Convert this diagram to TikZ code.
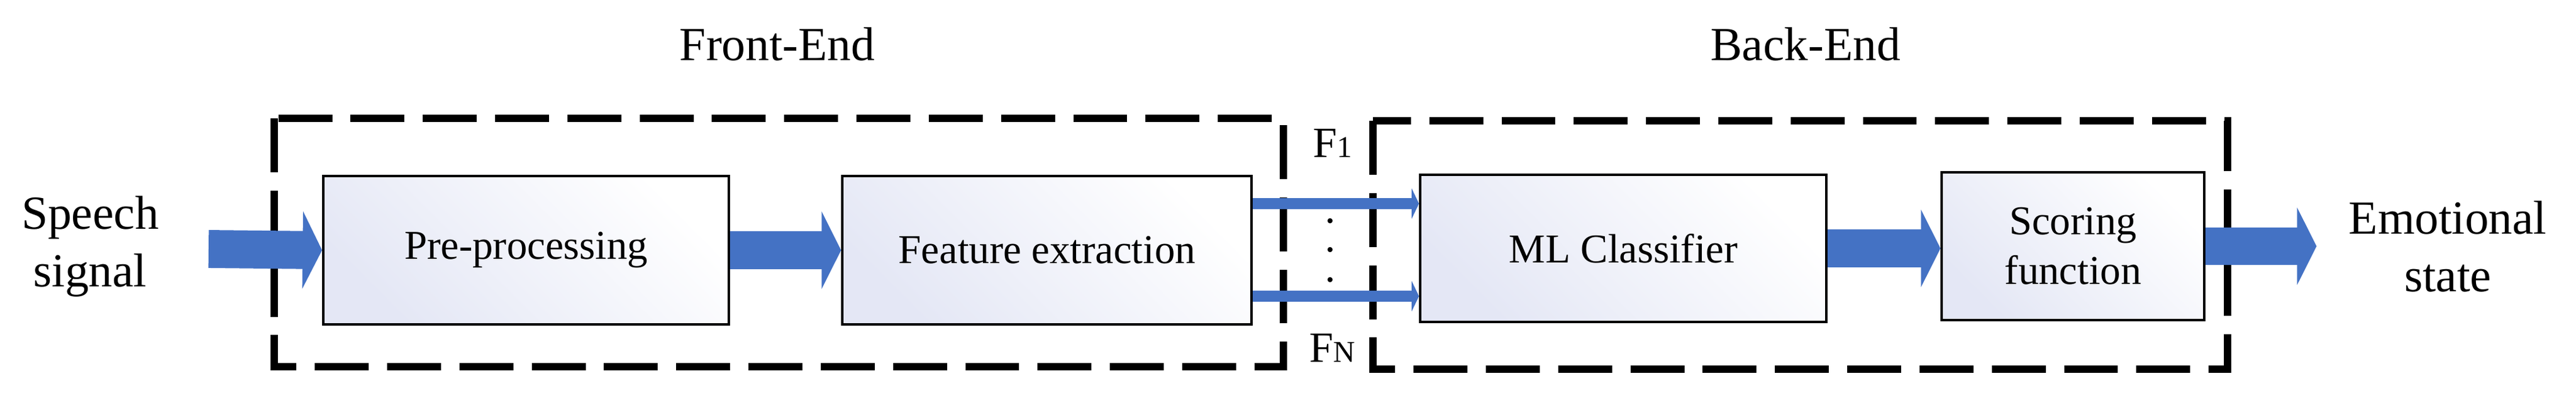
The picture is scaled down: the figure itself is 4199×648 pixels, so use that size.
\documentclass[tikz,border=0pt]{standalone}
\usepackage{fontspec}
\setmainfont{Liberation Serif}
\usetikzlibrary{arrows.meta}
\definecolor{arrblue}{HTML}{4472C4}
\definecolor{boxa}{RGB}{228,231,245}
\begin{document}
\begin{tikzpicture}[x=0.01cm,y=-0.01cm,
  blk/.style={draw=black,line width=1.1pt,left color=white,right color=boxa,shading angle=-45,anchor=north west,inner sep=0pt,align=center,font=\fontsize{19}{23}\selectfont},
  lbl/.style={align=center,font=\fontsize{22}{26.5}\selectfont},
  fat/.style={draw=arrblue,line width=17.6pt,-{Triangle[width=35.6pt,length=9pt]}},
  thin/.style={draw=arrblue,line width=5pt,-{Triangle[width=14pt,length=3.4pt]}},
  grp/.style={draw=black,line width=3.4pt,dash pattern=on 25pt off 8.5pt}]
\useasboundingbox (0,0) rectangle (4199,648);
% groups
\draw[grp] (447,193) rectangle (2092,598);
\draw[grp] (2238,197) rectangle (3631,602);
\node[lbl] (fe-lbl) at (1267,72) {Front-End};
\node[lbl] (be-lbl) at (2943,72) {Back-End};
% blocks
\node[blk,minimum width=6.61cm,minimum height=2.42cm] (pre) at (525,285) {Pre-processing};
\node[blk,minimum width=6.67cm,minimum height=2.42cm] (fe) at (1371,285) {Feature extraction};
\node[blk,minimum width=6.62cm,minimum height=2.40cm] (ml) at (2313,283) {ML Classifier};
\node[blk,minimum width=4.28cm,minimum height=2.41cm] (sc) at (3163,279) {Scoring\\function};
% labels
\node[lbl] (in) at (147,402) {Speech\\signal};
\node[lbl] (out) at (3990,402) {Emotional\\state};
\node[font=\fontsize{20}{24}\selectfont] (f1) at (2172,233) {F\raisebox{0pt}{\fontsize{14}{16}\selectfont 1}};
\node[font=\fontsize{20}{24}\selectfont] (fn) at (2172,567) {F\raisebox{0pt}{\fontsize{14}{16}\selectfont N}};
\foreach \yy in {360,407,456} \fill (2168,\yy) circle (1.2pt);
% connectors
\coordinate (src) at (340,406);
\coordinate (dst) at (3776,406);
\coordinate (y1) at (0,332);
\coordinate (y2) at (0,483);
\draw[fat] (src) -- (pre.west);
\draw[fat] (pre.east) -- (fe.west);
\draw[fat] (ml.east) -- (ml.east -| sc.west);
\draw[fat] (sc.east) -- (sc.east -| dst);
\draw[thin] (fe.east |- y1) -- (ml.west |- y1);
\draw[thin] (fe.east |- y2) -- (ml.west |- y2);
\end{tikzpicture}
\end{document}
